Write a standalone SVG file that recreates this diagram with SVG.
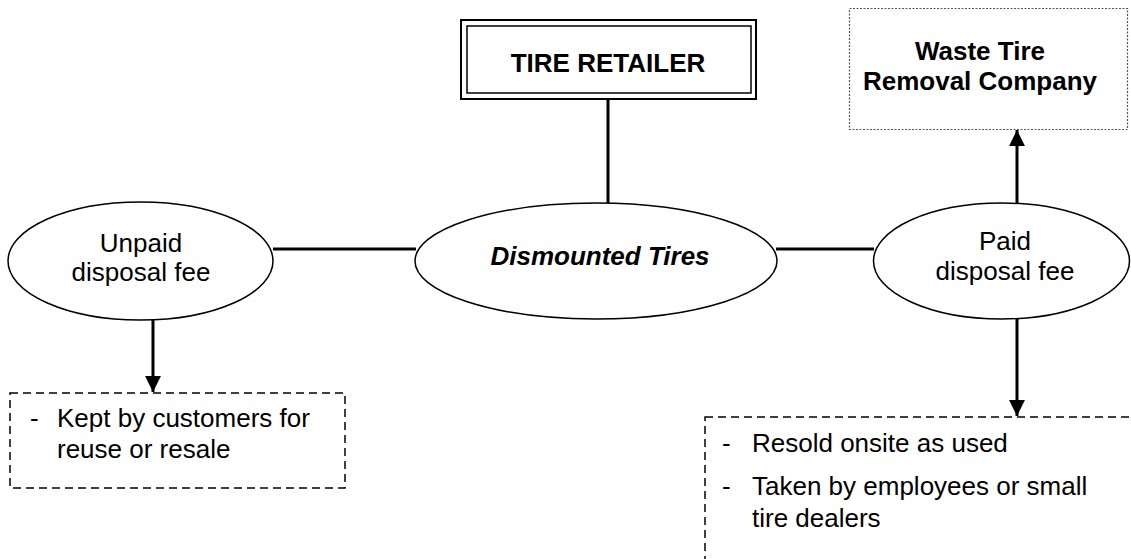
<svg xmlns="http://www.w3.org/2000/svg" width="1131" height="559" viewBox="0 0 1131 559">
<style>
  .t { font-family: "Liberation Sans", Arial, sans-serif; font-size: 26px; fill: #000; }
  .b { font-weight: bold; }
  .c { text-anchor: middle; }
  .ell { fill: #fff; stroke: #000; stroke-width: 1.5; }
  .conn { stroke: #000; stroke-width: 3; fill: none; }
  .dash { fill: #fff; stroke: #000; stroke-width: 1.5; stroke-dasharray: 8 5; }
  .dot { fill: #fff; stroke: #555; stroke-width: 1.2; stroke-dasharray: 2 1.5; }
</style>
<defs>
  <marker id="arr" viewBox="0 0 10 10" refX="10" refY="5" markerWidth="5.3" markerHeight="5.3" markerUnits="strokeWidth" orient="auto">
    <path d="M0,0 L10,5 L0,10 Z" fill="#000"/>
  </marker>
</defs>
<rect width="1131" height="559" fill="#fff"/>
<g id="connectors">
  <line class="conn" x1="608" y1="99" x2="608" y2="204"/>
  <line class="conn" x1="273" y1="249" x2="416" y2="249"/>
  <line class="conn" x1="776" y1="249" x2="874" y2="249"/>
  <line class="conn" x1="153" y1="319" x2="153" y2="392" marker-end="url(#arr)"/>
  <line class="conn" x1="1017" y1="319" x2="1017" y2="416" marker-end="url(#arr)"/>
  <line class="conn" x1="1017" y1="205" x2="1017" y2="130" marker-end="url(#arr)"/>
</g>
<g id="tire-retailer">
  <rect x="461" y="20" width="295" height="79" fill="#fff" stroke="#000" stroke-width="2"/>
  <rect x="467" y="26" width="284" height="67" fill="none" stroke="#000" stroke-width="1.5"/>
  <text class="t b c" x="608" y="72">TIRE RETAILER</text>
</g>
<g id="waste-tire-removal">
  <rect class="dot" x="849.5" y="8.5" width="278" height="121"/>
  <text class="t b c" x="980" y="60">Waste Tire</text>
  <text class="t b c" x="980" y="90">Removal Company</text>
</g>
<g id="unpaid">
  <ellipse class="ell" cx="140.5" cy="261" rx="132.5" ry="59"/>
  <text class="t c" x="141" y="252">Unpaid</text>
  <text class="t c" x="141" y="281">disposal fee</text>
</g>
<g id="dismounted">
  <ellipse class="ell" cx="596" cy="261" rx="181" ry="58"/>
  <text class="t b c" x="600" y="265" font-style="italic">Dismounted Tires</text>
</g>
<g id="paid">
  <ellipse class="ell" cx="1001.5" cy="261" rx="128" ry="58"/>
  <text class="t c" x="1005" y="250">Paid</text>
  <text class="t c" x="1005" y="280">disposal fee</text>
</g>
<g id="kept-box">
  <rect class="dash" x="10" y="393" width="335" height="95"/>
  <text class="t" x="30" y="427">-</text>
  <text class="t" x="57" y="427">Kept by customers for</text>
  <text class="t" x="57" y="458">reuse or resale</text>
</g>
<g id="resold-box">
  <rect class="dash" x="705" y="417" width="440" height="160"/>
  <text class="t" x="722" y="452">-</text>
  <text class="t" x="752" y="452">Resold onsite as used</text>
  <text class="t" x="722" y="495">-</text>
  <text class="t" x="752" y="495">Taken by employees or small</text>
  <text class="t" x="752" y="527">tire dealers</text>
</g>
</svg>
